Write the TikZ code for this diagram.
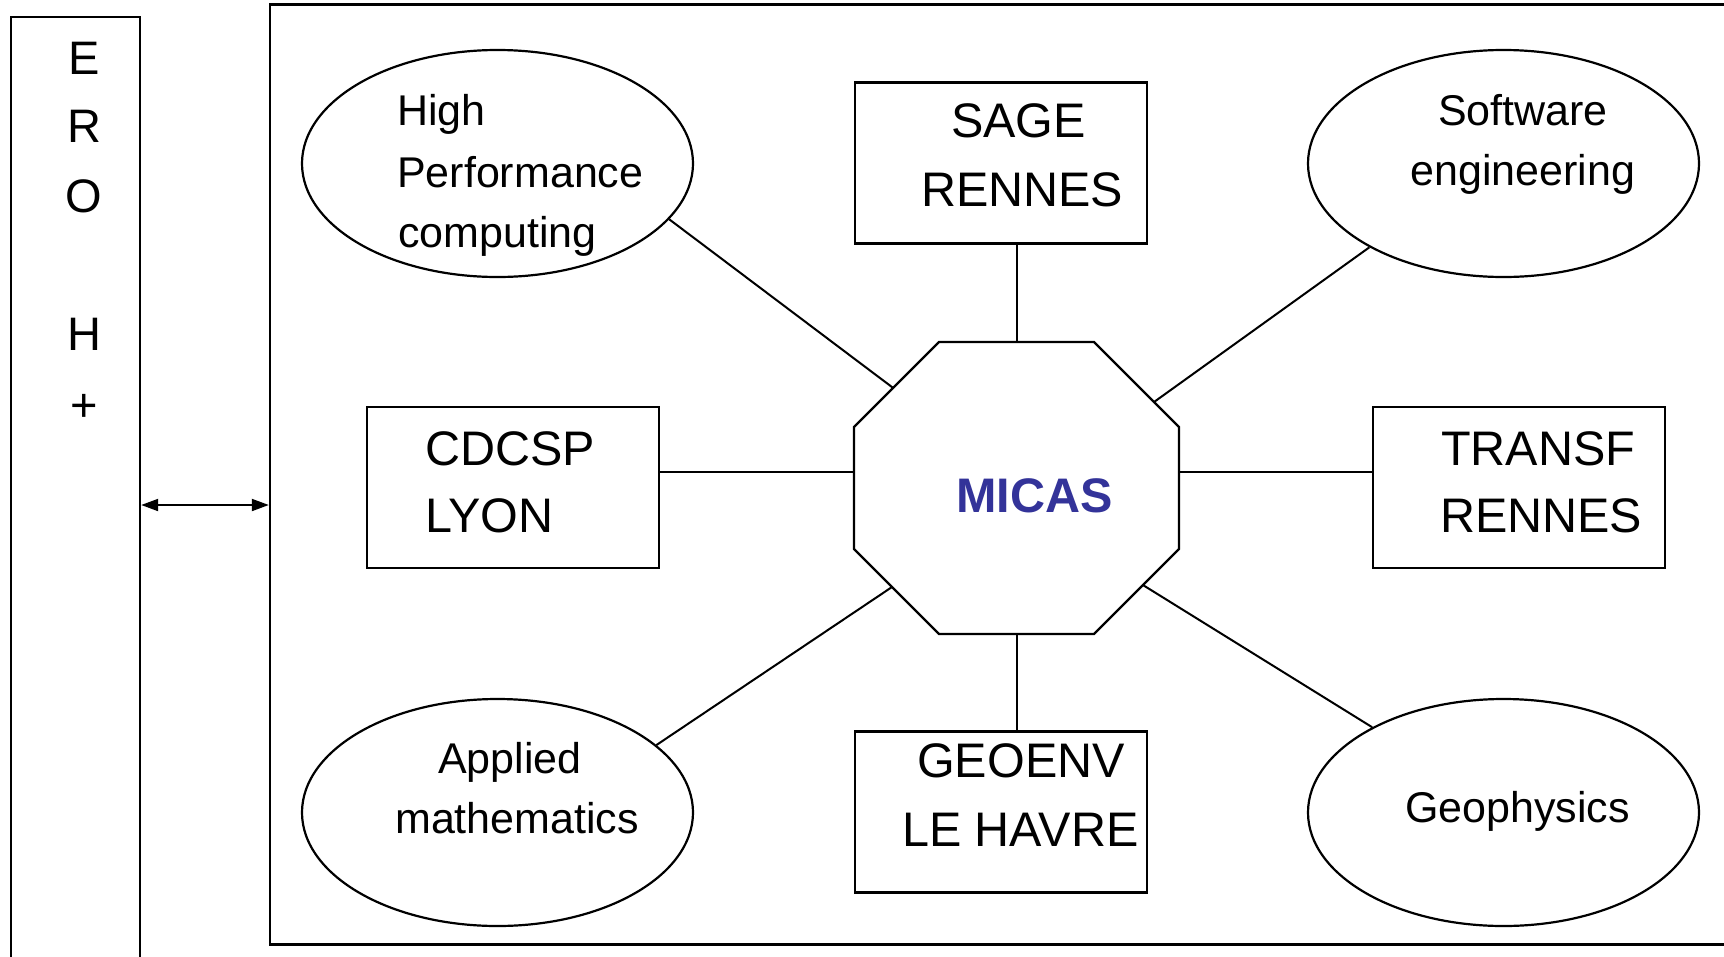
\documentclass[tikz,border=0pt]{standalone}
\usepackage{fontspec}
\setmainfont{Liberation Sans}
\usetikzlibrary{shapes.geometric,arrows.meta,calc}
\definecolor{micasblue}{HTML}{333399}
\tikzset{
  ln/.style={line width=2pt},
  box/.style={draw, line width=2.2pt, minimum width=292pt, minimum height=161pt, inner sep=0pt},
  ell/.style={draw, ellipse, line width=2.2pt, minimum width=391pt, minimum height=227pt, inner sep=0pt},
  etxt/.style={anchor=base west, inner sep=0pt, font=\fontsize{43}{50}\selectfont},
  ectr/.style={anchor=base, inner sep=0pt, font=\fontsize{43}{50}\selectfont},
  btxt/.style={anchor=base west, inner sep=0pt, font=\fontsize{48.5}{56}\selectfont},
  ltr/.style={anchor=base, inner sep=0pt, font=\fontsize{47}{55}\selectfont},
}
\begin{document}
\begin{tikzpicture}[x=1pt,y=-1pt]
\path[use as bounding box, clip] (0,0) rectangle (1724,956);
\fill[white] (0,0) rectangle (1724,956);

% left bar and frame
\node[draw, line width=2.4pt, minimum width=129pt, minimum height=983pt, inner sep=0pt] (bar) at (75.5,508.5) {};
\node[draw, line width=2.4pt, minimum width=1490pt, minimum height=940pt, inner sep=0pt] (frame) at (1015,474.5) {};
\node[ltr] (l1) at (84,74) {E};
\node[ltr] (l2) at (84,142) {R};
\node[ltr] (l3) at (84,212) {O};
\node[ltr] (l4) at (84,350) {H};
\node[ltr] (l5) at (84,421) {+};
\coordinate (ay) at (0,505);
\draw[ln, {Triangle[length=17pt,width=12pt]}-{Triangle[length=17pt,width=12pt]}] (bar.east |- ay) -- (frame.west |- ay);

% central octagon
\node[minimum width=325pt, minimum height=292pt, inner sep=0pt, outer sep=0pt] (oct) at (1016.5,488) {};
\coordinate (o1) at ([xshift=85pt]oct.north west);
\coordinate (o2) at ([xshift=-85pt]oct.north east);
\coordinate (o3) at ([yshift=-85pt]oct.north east);
\coordinate (o4) at ([yshift=85pt]oct.south east);
\coordinate (o5) at ([xshift=-85pt]oct.south east);
\coordinate (o6) at ([xshift=85pt]oct.south west);
\coordinate (o7) at ([yshift=85pt]oct.south west);
\coordinate (o8) at ([yshift=-85pt]oct.north west);
\draw[line width=2.2pt, line join=miter] (o1) -- (o2) -- (o3) -- (o4) -- (o5) -- (o6) -- (o7) -- (o8) -- cycle;
\coordinate (pul) at ($(o8)!0.46!(o1)$);
\coordinate (pur) at ($(o2)!0.706!(o3)$);
\coordinate (pll) at ($(o7)!0.447!(o6)$);
\coordinate (plr) at ($(o4)!0.424!(o5)$);
\node[anchor=base west, inner sep=0pt, font=\fontsize{48.5}{56}\selectfont\bfseries, text=micasblue] (micas) at (956,512) {MICAS};

% boxes
\node[box] (sage) at (1001,163) {};
\node[box] (cdcsp) at (513,487.5) {};
\node[box] (transf) at (1519,487.5) {};
\node[box] (geoenv) at (1001,812) {};

\node[btxt] (t1) at (951,137) {SAGE};
\node[btxt] (t2) at (921,206) {RENNES};
\node[btxt] (t3) at (425,465) {CDCSP};
\node[btxt] (t4) at (425,532) {LYON};
\node[btxt] (t5) at (1441,465) {TRANSF};
\node[btxt] (t6) at (1440,532) {RENNES};
\node[btxt] (t7) at (917,777) {GEOENV};
\node[btxt] (t8) at (902,846) {LE HAVRE};

% ellipses
\node[ell] (hpc) at (497.5,163.5) {};
\node[ell] (soft) at (1503.5,163.5) {};
\node[ell] (appl) at (497.5,812.5) {};
\node[ell] (geo) at (1503.5,812.5) {};

\node[etxt] (e1) at (397,125) {High};
\node[etxt] (e2) at (397,187) {Performance};
\node[etxt] (e3) at (398,247) {computing};
\node[ectr] (e4) at (1523,125) {Software};
\node[ectr] (e5) at (1523,185) {engineering};
\node[etxt] (e6) at (438,773) {Applied};
\node[etxt] (e7) at (395,833) {mathematics};
\node[etxt] (e8) at (1405,822) {Geophysics};

% connectors
\coordinate (hy) at (0,472);
\draw[ln] (cdcsp.east |- hy) -- (oct.west |- hy);
\draw[ln] (oct.east |- hy) -- (transf.west |- hy);
\draw[ln] (oct.north) -- (oct.north |- sage.south);
\draw[ln] (oct.south) -- (oct.south |- geoenv.north);
\draw[ln] (hpc.-18) -- (pul);
\draw[ln] (soft.212.3) -- (pur);
\draw[ln] (appl.23.4) -- (pll);
\draw[ln] (geo.147.7) -- (plr);
\end{tikzpicture}
\end{document}
